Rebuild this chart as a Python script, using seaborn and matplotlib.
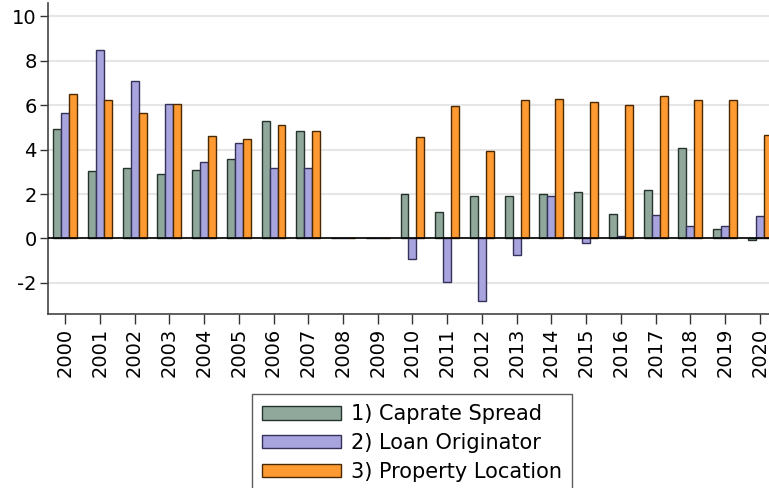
import matplotlib
matplotlib.use("Agg")
import matplotlib.pyplot as plt
import seaborn as sns
import pandas as pd

years = [str(y) for y in range(2000, 2021)]
caprate_spread = [4.95, 3.04, 3.18, 2.91, 3.10, 3.58, 5.28, 4.86, 0.0, 0.0, 2.02,
                  1.21, 1.93, 1.93, 2.02, 2.07, 1.09, 2.19, 4.09, 0.42, -0.06]
loan_originator = [5.65, 8.49, 7.11, 6.06, 3.46, 4.30, 3.18, 3.15, 0.0, 0.0, -0.94,
                   -1.95, -2.80, -0.76, 1.92, -0.22, 0.09, 1.06, 0.58, 0.58, 1.00]
property_location = [6.49, 6.25, 5.65, 6.06, 4.62, 4.48, 5.13, 4.86, 0.0, 0.0, 4.59,
                     5.97, 3.96, 6.24, 6.28, 6.15, 6.00, 6.43, 6.24, 6.22, 4.65]
series_names = ["1) Caprate Spread", "2) Loan Originator", "3) Property Location"]

df = pd.DataFrame({"year": years * 3,
                   "value": caprate_spread + loan_originator + property_location,
                   "series": [s for s in series_names for _ in years]})

fills = ["#8fa89b", "#a8a4de", "#ff9a33"]
edges = ["#26332d", "#35325a", "#4a2800"]

sns.set_style("white")
plt.rcParams["font.family"] = ["DejaVu Sans"]
plt.rcParams["axes.unicode_minus"] = False
plt.rcParams["text.color"] = "black"

fig = plt.figure(figsize=(7.69, 4.88), dpi=100)
ax = fig.add_axes([48 / 769, (488 - 314) / 488, 1 - 48 / 769, (314 - 3) / 488])
ax.yaxis.grid(True, color="#e6e6e6", lw=1.5, zorder=0)
ax.set_axisbelow(True)

sns.barplot(data=df, x="year", y="value", hue="series", palette=fills, saturation=1,
            width=0.69, gap=0, dodge=True, ax=ax, legend=True, zorder=3)

for cont, ec in zip(ax.containers, edges):
    for bar in cont:
        bar.set_edgecolor(ec)
        bar.set_linewidth(1.0)

ax.axhline(0, color="black", lw=1.2, zorder=4)
ax.set_xlim(-0.49, 20.26)
ax.set_ylim(-3.4, 10.6)
ax.set_yticks([-2, 0, 2, 4, 6, 8, 10])
ax.set_xlabel("")
ax.set_ylabel("")
ax.tick_params(axis="x", labelrotation=90, labelsize=14, length=7, width=1, color="#333",
               pad=3, labelcolor="black")
ax.tick_params(axis="y", labelsize=14, length=6, width=1, color="#333", pad=2,
               labelcolor="black")
ax.tick_params(bottom=True, left=True)
for s in ["top", "right"]:
    ax.spines[s].set_visible(False)
for s in ["left", "bottom"]:
    ax.spines[s].set_color("#444")
    ax.spines[s].set_linewidth(1.2)

handles, labels = ax.get_legend_handles_labels()
for h, ec in zip(handles, edges):
    h.set_edgecolor(ec)
leg = ax.legend(handles, labels, loc="upper left", bbox_to_anchor=(252 / 769, 1 - 394 / 488),
                bbox_transform=fig.transFigure, fontsize=15, frameon=True, fancybox=False,
                edgecolor="#333", handlelength=3.75, handleheight=0.6, labelspacing=0.42,
                borderpad=0.5, handletextpad=0.5, borderaxespad=0)
for t in leg.get_texts():
    t.set_color("black")

fig.savefig("out.png", dpi=100)
